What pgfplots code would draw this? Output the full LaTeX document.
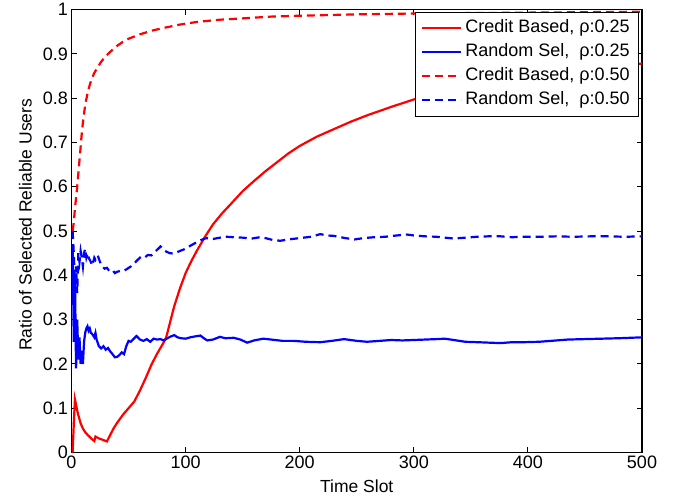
\documentclass[border=0pt]{standalone}
\usepackage{fontspec}
\setmainfont{Liberation Sans}
\usepackage{pgfplots}
\pgfplotsset{compat=1.18}
\newcommand\fs{\fontsize{18}{21}\selectfont}

\begin{document}
\begin{tikzpicture}
\begin{axis}[
  scale only axis, width=570.5pt, height=443pt,
  xmin=0, xmax=500, ymin=0, ymax=1,
  xtick={0,100,200,300,400,500},
  ytick={0,0.1,0.2,0.3,0.4,0.5,0.6,0.7,0.8,0.9,1},
  tick align=inside, major tick length=5.5pt,
  axis line style={line width=1.1pt},
  every tick/.style={black, line width=0.9pt},
  tick label style={font=\fs},
  /pgf/number format/assume math mode=true,
  yticklabel style={/pgf/number format/fixed, /pgf/number format/precision=1},
  xlabel={Time Slot}, ylabel={Ratio of Selected Reliable Users},
  label style={font=\fontsize{17.5}{21}\selectfont},
  xlabel style={at={(axis description cs:0.5,0)}, anchor=north, yshift=-27pt, inner sep=0pt},
  ylabel style={at={(axis description cs:-0.0692,0.514)}, anchor=south, inner sep=0pt},
  legend image code/.code={\draw[#1] (0pt,0pt) -- (39pt,0pt);},
  legend cell align=left,
  legend style={at={(1,1)}, anchor=north east, xshift=-3pt, yshift=-2pt,
    draw=black, line width=0.8pt, fill=white, font=\fs,
    inner xsep=6pt, inner ysep=4pt, row sep=0pt, column sep=0pt,
    nodes={inner xsep=3pt, inner ysep=3.5pt, text height=13pt, text depth=4pt}},
]
\addplot[red, line width=2.2pt] coordinates {
(1,0) (2,0.065) (3,0.12) (4,0.108) (5,0.095) (6,0.084) (7,0.075) (8,0.066) (10,0.054)
(12,0.046) (14,0.04) (16,0.035) (18,0.03) (20,0.026) (21,0.036) (24,0.032) (28,0.028)
(31,0.025) (34,0.04) (37,0.055) (40,0.067) (45,0.085) (50,0.1) (55,0.115) (60,0.14)
(65,0.168) (70,0.198) (75,0.223) (80,0.245) (83,0.26) (86,0.29) (90,0.33) (95,0.37)
(100,0.405) (105,0.432) (110,0.456) (117,0.487) (124,0.515) (132,0.54) (140,0.562)
(150,0.59) (160,0.613) (170,0.635) (180,0.655) (190,0.675) (200,0.692) (215,0.713)
(230,0.73) (245,0.747) (260,0.762) (280,0.78) (300,0.797) (325,0.813) (350,0.827)
(375,0.839) (400,0.85) (425,0.859) (450,0.867) (475,0.873) (500,0.878)};
\addlegendentry{Credit Based, ρ:0.25}
\addplot[blue, line width=2.2pt] coordinates {
(1,0.47) (2,0.25) (3,0.4) (4,0.19) (5,0.3) (6,0.21) (7,0.26) (8,0.2) (9,0.23) (10,0.2)
(11,0.25) (12,0.27) (13,0.28) (14,0.285) (15,0.275) (16,0.28) (17,0.27) (18,0.268)
(20,0.26) (21,0.27) (22,0.255) (24,0.24) (26,0.235) (28,0.24) (30,0.232) (32,0.236)
(34,0.228) (36,0.222) (38,0.215) (40,0.216) (42,0.22) (44,0.226) (46,0.222) (48,0.24)
(50,0.252) (52,0.25) (55,0.258) (57,0.263) (60,0.255) (63,0.252) (66,0.256) (69,0.25)
(72,0.257) (75,0.255) (78,0.256) (81,0.253) (84,0.258) (87,0.262) (90,0.265) (93,0.26)
(96,0.258) (100,0.257) (104,0.26) (108,0.262) (113,0.264) (116,0.258) (119,0.253)
(124,0.255) (130,0.261) (135,0.258) (142,0.259) (148,0.255) (154,0.248) (160,0.253)
(168,0.257) (175,0.255) (185,0.252) (195,0.252) (205,0.25) (218,0.249) (228,0.252)
(239,0.256) (250,0.252) (259,0.25) (270,0.252) (280,0.254) (290,0.253) (300,0.254)
(310,0.255) (320,0.256) (327,0.257) (335,0.254) (345,0.25) (356,0.249) (366,0.248)
(376,0.247) (386,0.249) (396,0.249) (410,0.25) (425,0.253) (435,0.255) (450,0.256)
(465,0.257) (480,0.258) (490,0.259) (500,0.26)};
\addlegendentry{Random Sel,\ \ ρ:0.25}
\addplot[red, line width=2.2pt, dash pattern=on 8pt off 5pt] coordinates {
(1,0.5) (2,0.52) (3,0.55) (4,0.575) (5,0.6) (6,0.63) (7,0.66) (8,0.69) (9,0.72)
(10,0.745) (12,0.785) (14,0.81) (16,0.83) (18,0.845) (20,0.857) (23,0.87) (26,0.882)
(30,0.895) (35,0.907) (40,0.918) (45,0.927) (50,0.934) (60,0.944) (70,0.952) (80,0.958)
(95,0.966) (110,0.972) (130,0.977) (150,0.98) (175,0.984) (200,0.986) (250,0.989)
(300,0.991) (350,0.992) (400,0.993) (450,0.994) (500,0.995)};
\addlegendentry{Credit Based, ρ:0.50}
\addplot[blue, line width=2.2pt, dash pattern=on 8pt off 5pt] coordinates {
(1,0.5) (2,0.45) (3,0.38) (4,0.42) (5,0.36) (6,0.45) (7,0.43) (8,0.455) (9,0.44)
(10,0.42) (11,0.45) (12,0.46) (13,0.44) (14,0.45) (15,0.44) (17,0.43) (18,0.422)
(19,0.43) (20,0.44) (21,0.435) (23,0.445) (25,0.43) (27,0.42) (29,0.415) (31,0.417)
(33,0.41) (36,0.412) (38,0.405) (40,0.408) (43,0.41) (46,0.41) (49,0.415) (52,0.42)
(55,0.427) (58,0.435) (61,0.442) (64,0.44) (67,0.446) (70,0.445) (74,0.455) (78,0.465)
(82,0.455) (86,0.45) (90,0.449) (95,0.455) (100,0.46) (105,0.468) (110,0.475)
(113,0.479) (118,0.484) (124,0.482) (130,0.485) (136,0.487) (142,0.486) (150,0.485)
(158,0.483) (165,0.486) (170,0.484) (176,0.48) (183,0.478) (190,0.481) (200,0.484)
(210,0.487) (218,0.493) (224,0.49) (230,0.489) (240,0.484) (248,0.481) (256,0.484)
(265,0.486) (275,0.487) (285,0.49) (294,0.492) (300,0.49) (310,0.488) (320,0.487)
(335,0.483) (345,0.485) (355,0.487) (365,0.488) (376,0.488) (386,0.486) (396,0.487)
(410,0.487) (425,0.488) (440,0.487) (455,0.488) (470,0.488) (485,0.487) (500,0.488)};
\addlegendentry{Random Sel,\ \ ρ:0.50}
\end{axis}
\path (-71.5pt,-48pt) rectangle (616.5pt,449pt);
\end{tikzpicture}
\end{document}
